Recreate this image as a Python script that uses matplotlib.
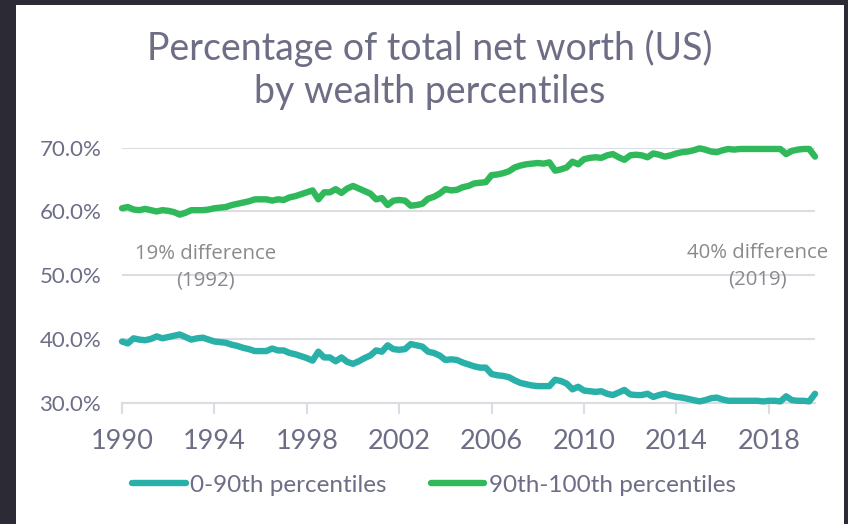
import matplotlib
matplotlib.use("Agg")
import matplotlib.pyplot as plt
from matplotlib.patches import Rectangle
from matplotlib.lines import Line2D
from matplotlib.ticker import FuncFormatter

# ---- data (quarterly) ----
start_year = 1990
quarters_per_year = 4

bottom90 = [
    39.6, 39.3, 40.1, 39.9, 39.8, 40.0, 40.4, 40.1, 40.3, 40.5, 40.7, 40.3,
    39.9, 40.1, 40.2, 39.9, 39.6, 39.5, 39.4, 39.1, 38.9, 38.6, 38.4, 38.1,
    38.1, 38.1, 38.5, 38.2, 38.2, 37.8, 37.6, 37.3, 37.0, 36.6, 38.0, 37.1,
    37.1, 36.5, 37.1, 36.4, 36.1, 36.5, 37.0, 37.4, 38.2, 38.0, 39.0, 38.4,
    38.3, 38.4, 39.2, 39.0, 38.8, 38.0, 37.8, 37.4, 36.7, 36.8, 36.7, 36.3,
    36.0, 35.7, 35.5, 35.5, 34.5, 34.3, 34.2, 34.0, 33.5, 33.1, 32.9, 32.7,
    32.6, 32.6, 32.6, 33.6, 33.4, 33.0, 32.1, 32.5, 31.9, 31.8, 31.7, 31.8,
    31.4, 31.2, 31.6, 32.0, 31.3, 31.2, 31.2, 31.4, 30.9, 31.2, 31.4, 31.1,
    30.9, 30.8, 30.6, 30.4, 30.2, 30.4, 30.7, 30.8, 30.5, 30.3, 30.3, 30.3,
    30.3, 30.3, 30.3, 30.2, 30.3, 30.3, 30.2, 31.0, 30.4, 30.3, 30.3, 30.2,
    31.4,
]

top10 = [
    60.5, 60.7, 60.3, 60.2, 60.4, 60.2, 60.0, 60.2, 60.1, 59.9, 59.5, 59.8,
    60.2, 60.2, 60.2, 60.3, 60.5, 60.6, 60.7, 61.0, 61.2, 61.4, 61.6, 61.9,
    61.9, 61.9, 61.7, 61.9, 61.8, 62.2, 62.4, 62.7, 63.0, 63.3, 61.9, 63.0,
    63.0, 63.5, 62.9, 63.6, 64.0, 63.6, 63.2, 62.8, 61.9, 62.1, 61.0, 61.7,
    61.8, 61.7, 60.9, 61.0, 61.2, 62.0, 62.3, 62.8, 63.5, 63.3, 63.4, 63.8,
    64.0, 64.4, 64.5, 64.6, 65.7, 65.8, 66.0, 66.3, 66.9, 67.2, 67.4, 67.5,
    67.6, 67.5, 67.7, 66.4, 66.6, 66.9, 67.8, 67.4, 68.2, 68.4, 68.5, 68.4,
    68.8, 69.0, 68.5, 68.1, 68.8, 68.9, 68.8, 68.5, 69.1, 68.9, 68.6, 68.8,
    69.1, 69.3, 69.4, 69.6, 69.9, 69.7, 69.4, 69.3, 69.6, 69.8, 69.7, 69.8,
    69.8, 69.8, 69.8, 69.8, 69.8, 69.8, 69.8, 69.0, 69.5, 69.7, 69.8, 69.8,
    68.6,
]

x_ticks = [1990, 1994, 1998, 2002, 2006, 2010, 2014, 2018]
y_ticks = [30, 40, 50, 60, 70]
series_labels = ["0-90th percentiles", "90th-100th percentiles"]
title = "Percentage of total net worth (US)\nby wealth percentiles"
annotation_texts = ["19% difference\n(1992)", "40% difference\n(2019)"]

years = [start_year + i / quarters_per_year for i in range(len(top10))]

# ---- style ----
TEAL = "#29b0a9"
GREEN = "#2fb95a"
TEXT = "#6d6d86"
GRID = "#dcdce3"
FRAME = "#2b2a35"
FONT = ["Lato", "DejaVu Sans"]

plt.rcParams["font.family"] = FONT

fig = plt.figure(figsize=(8.48, 5.24), dpi=100)
fig.patch.set_facecolor(FRAME)
fig.patches.append(Rectangle((16 / 848, 0), (844 - 16) / 848, (524 - 5) / 524,
                             transform=fig.transFigure, facecolor="white",
                             edgecolor="none", zorder=-10))

ax = fig.add_axes([122 / 848, 121.3 / 524, (815 - 122) / 848, 255 / 524])
ax.set_facecolor("none")

ax.plot(years, bottom90, color=TEAL, lw=4.6, solid_joinstyle="round",
        solid_capstyle="round", zorder=3, clip_on=False)
ax.plot(years, top10, color=GREEN, lw=4.6, solid_joinstyle="round",
        solid_capstyle="round", zorder=3, clip_on=False)

ax.set_xlim(1990, 2020)
ax.set_ylim(30, 70)
ax.set_xticks(x_ticks)
ax.set_yticks(y_ticks)
ax.yaxis.set_major_formatter(FuncFormatter(lambda v, p: f"{v:.1f}%"))
ax.grid(axis="y", color=GRID, lw=1.5, zorder=0)
ax.set_axisbelow(True)
for s in ["top", "right", "left"]:
    ax.spines[s].set_visible(False)
ax.spines["bottom"].set_color(GRID)
ax.spines["bottom"].set_linewidth(1.5)
ax.tick_params(axis="y", length=0, pad=15, labelsize=16, labelcolor=TEXT)
ax.tick_params(axis="x", length=8, width=1.5, color=GRID, pad=11,
               labelsize=19.5, labelcolor=TEXT)

ann_pos = [(1993.6, 51.2), (2017.5, 51.4)]
for txt, (xp, yp) in zip(annotation_texts, ann_pos):
    ax.text(xp, yp, txt, ha="center", va="center",
            fontsize=14.7, color="#8a8a8e", linespacing=1.45,
            family=["Open Sans", "DejaVu Sans"], zorder=2)

fig.text(430 / 848, 1 - 70 / 524, title, ha="center", va="center",
         fontsize=27, color=TEXT, linespacing=1.25)

handles = [Line2D([], [], color=TEAL, lw=4.6, solid_capstyle="round"),
           Line2D([], [], color=GREEN, lw=4.6, solid_capstyle="round")]
fig.legend(handles, series_labels, loc="center", bbox_to_anchor=(434 / 848, 1 - 485 / 524),
           ncol=2, frameon=False, fontsize=17.5, labelcolor=TEXT, handlelength=2.2,
           handletextpad=0.2, columnspacing=1.8)

fig.savefig("out.png", dpi=100, facecolor=fig.get_facecolor())
